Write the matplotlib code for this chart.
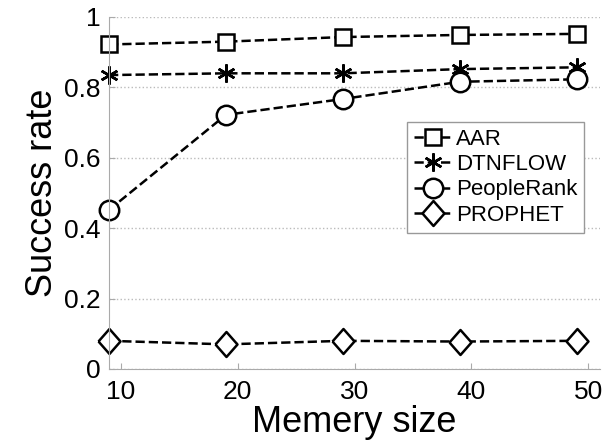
import matplotlib.pyplot as plt
import matplotlib as mpl

mpl.rcParams['font.family'] = ['Liberation Sans', 'DejaVu Sans']

# data
memory = [9, 19, 29, 39, 49]
aar = [0.922, 0.930, 0.943, 0.949, 0.952]
dtnflow = [0.835, 0.840, 0.840, 0.852, 0.857]
peoplerank = [0.452, 0.722, 0.767, 0.816, 0.823]
prophet = [0.080, 0.070, 0.080, 0.078, 0.080]
xticks = [10, 20, 30, 40, 50]
yticks = [0, 0.2, 0.4, 0.6, 0.8, 1]
ytick_labels = ['0', '0.2', '0.4', '0.6', '0.8', '1']

fig = plt.figure(figsize=(6.07, 4.45), dpi=100)
ax = fig.add_axes([0.1796, 0.1708, 0.809, 0.791])

style = dict(color='black', linestyle='--', linewidth=1.8, markerfacecolor='white',
             markeredgecolor='black', markeredgewidth=1.8, clip_on=False)
diamond = [(-0.44, 0), (0, 0.5), (0.44, 0), (0, -0.5), (-0.44, 0)]
ax.plot(memory, aar, marker='s', markersize=12, label='AAR', **style)
ax.plot(memory, dtnflow, marker=(6, 2, 0), markersize=13, label='DTNFLOW', **style)
ax.plot(memory, peoplerank, marker='o', markersize=14, label='PeopleRank', **style)
ax.plot(memory, prophet, marker=diamond, markersize=18, label='PROPHET', **style)

ax.set_xlim(9, 51)
ax.set_ylim(0, 1)
ax.set_xticks(xticks)
ax.set_yticks(yticks)
ax.set_yticklabels(ytick_labels)
ax.tick_params(direction='in', length=4, color='#aaaaaa', labelsize=19)
ax.tick_params(axis='x', pad=8)
ax.tick_params(axis='y', pad=6)
ax.grid(axis='y', linestyle=':', color='#bbbbbb', linewidth=1)
for s in ['top', 'right']:
    ax.spines[s].set_visible(False)
for s in ['left', 'bottom']:
    ax.spines[s].set_color('#aaaaaa')

ax.set_xlabel('Memery size', fontsize=26, labelpad=1)
ax.set_ylabel('Success rate', fontsize=26, labelpad=3)

leg = ax.legend(loc='upper right', bbox_to_anchor=(0.967, 0.702), fontsize=16,
                handlelength=1.7, handletextpad=0.2, borderpad=0.3, labelspacing=0.2,
                fancybox=False, framealpha=1, borderaxespad=0)
leg.get_frame().set_edgecolor('#999999')

fig.savefig('out.png', dpi=100)
